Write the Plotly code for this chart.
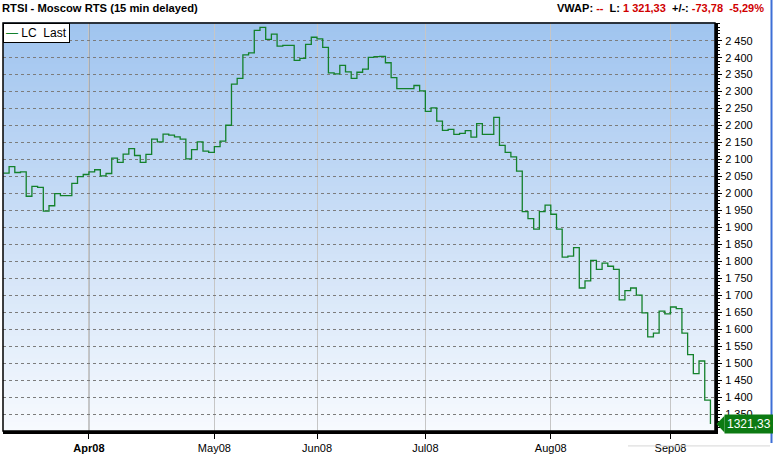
import plotly.graph_objects as go

# ---- data ----
values = [
    2060, 2079, 2062, 2064, 1992, 2021, 2018, 1948, 1964, 2000,
    1994, 1994, 2030, 2050, 2056, 2064, 2070, 2052, 2059, 2104,
    2092, 2116, 2132, 2112, 2092, 2115, 2160, 2152, 2175, 2172,
    2167, 2160, 2102, 2129, 2152, 2125, 2121, 2138, 2154, 2201,
    2322, 2339, 2408, 2414, 2480, 2489, 2454, 2469, 2434, 2436,
    2436, 2392, 2398, 2439, 2460, 2455, 2430, 2355, 2352, 2377,
    2358, 2339, 2357, 2366, 2401, 2403, 2404, 2385, 2341, 2309,
    2309, 2309, 2318, 2302, 2242, 2252, 2213, 2186, 2189, 2174,
    2177, 2185, 2166, 2206, 2174, 2174, 2224, 2142, 2121, 2108,
    2066, 1947, 1926, 1895, 1947, 1966, 1939, 1895, 1813, 1816,
    1841, 1722, 1743, 1803, 1777, 1795, 1786, 1777, 1687, 1714,
    1722, 1701, 1649, 1578, 1589, 1654, 1646, 1666, 1661, 1589,
    1526, 1470, 1507, 1392, 1321.33,
]
day_index = list(range(len(values)))
month_tick_index = [15, 37, 55, 74, 96, 117]
month_tick_labels = ["<b>Apr08</b>", "May08", "Jun08", "Jul08", "Aug08", "Sep08"]
y_tick_values = list(range(1350, 2451, 50))
series_name = "LC  Last"
title_text = "RTSI - Moscow RTS (15 min delayed)"
change_abs = -73.78

# ---- geometry / style ----
W, H = 773, 457
ML, MR, MT, MB = 3, 58, 23, 24
PW, PH = W - ML - MR, H - MT - MB
y_range = [1301, 2502]
x_range = [-0.07, 124.8]
LINE_GREEN = "#13812b"
LABEL_GREEN = "#0c7a12"
RED = "#d00000"
FONT = "Liberation Sans, Arial, sans-serif"


def px_x(px):
    return (px - ML) / PW


def px_y(py):
    return (H - MB - py) / PH


def val_y(v):
    return (v - y_range[0]) / (y_range[1] - y_range[0])


def fmt_num(v):
    s = f"{abs(v):,.2f}".replace(",", " ").replace(".", ",")
    return ("-" if v < 0 else "") + s


fig = go.Figure()
fig.add_trace(go.Scatter(
    x=day_index, y=values, mode="lines", name=series_name,
    line=dict(shape="hv", color=LINE_GREEN, width=1.3),
    showlegend=False, hoverinfo="skip",
))

shapes = []
# vertical gradient background of the plot area
top_rgb = (160, 196, 239)
bot_rgb = (247, 250, 254)
n_bands = 90
for k in range(n_bands):
    t = (k + 0.5) / n_bands
    c = tuple(round(bot_rgb[j] + (top_rgb[j] - bot_rgb[j]) * t) for j in range(3))
    shapes.append(dict(type="rect", xref="paper", yref="paper",
                       x0=0, x1=1, y0=k / n_bands, y1=(k + 1) / n_bands + 0.002,
                       fillcolor=f"rgb{c}", line=dict(width=0), layer="below"))
# darker quarter line at Apr08
shapes.append(dict(type="line", xref="x", yref="paper",
                   x0=month_tick_index[0], x1=month_tick_index[0], y0=0, y1=1,
                   line=dict(color="#858585", width=1), layer="between"))
# frame
shapes.append(dict(type="rect", xref="paper", yref="paper", x0=0, x1=1, y0=0, y1=1,
                   line=dict(color="black", width=1.5), layer="above"))
# last-value pointer triangle
last_v = values[-1]
ly = val_y(last_v)
half = 8.5 / PH
shapes.append(dict(type="path", xref="paper", yref="paper",
                   path=f"M {px_x(716.5)} {ly} L {px_x(724.5)} {ly + half} L {px_x(724.5)} {ly - half} Z",
                   fillcolor=LABEL_GREEN, line=dict(width=0), layer="above"))
# window edge decorations
shapes.append(dict(type="line", xref="paper", yref="paper", x0=px_x(771.5), x1=px_x(771.5),
                   y0=px_y(445), y1=px_y(0), line=dict(color="#3d6fd6", width=2), layer="above"))
shapes.append(dict(type="line", xref="paper", yref="paper", x0=px_x(628), x1=px_x(770),
                   y0=px_y(448), y1=px_y(448), line=dict(color="#d6d6d6", width=1), layer="above"))

pct = change_abs / (last_v - change_abs) * 100
header = (f"<b>VWAP: <span style='color:{RED}'>--</span>  L: "
          f"<span style='color:{RED}'>{fmt_num(last_v)}</span>  +/-: "
          f"<span style='color:{RED}'>{fmt_num(change_abs)}  {fmt_num(pct)}%</span></b>")

annotations = [
    dict(text=f"<b>{title_text}</b>", xref="paper", yref="paper", x=px_x(0), y=px_y(8),
         xanchor="left", yanchor="middle", showarrow=False,
         font=dict(family=FONT, size=11.2, color="black")),
    dict(text=header, xref="paper", yref="paper", x=px_x(766), y=px_y(8),
         xanchor="right", yanchor="middle", showarrow=False,
         font=dict(family=FONT, size=11, color="black")),
    dict(text=f"<span style='color:{LINE_GREEN}'>—</span> {series_name}", xref="paper", yref="paper",
         x=0, y=1, xanchor="left", yanchor="top", showarrow=False,
         bgcolor="white", bordercolor="black", borderwidth=1, borderpad=2,
         font=dict(family=FONT, size=12, color="black")),
    dict(text=fmt_num(last_v).replace(" ", ""), xref="paper", yref="paper",
         x=px_x(724), y=ly, xanchor="left", yanchor="middle", showarrow=False,
         bgcolor=LABEL_GREEN, borderpad=2,
         font=dict(family=FONT, size=12, color="white")),
]

fig.update_layout(
    width=W, height=H,
    margin=dict(l=ML, r=MR, t=MT, b=MB, pad=0),
    paper_bgcolor="white", plot_bgcolor="white",
    separators=", ",
    showlegend=False,
    shapes=shapes, annotations=annotations,
    font=dict(family=FONT, size=11, color="black"),
    xaxis=dict(range=x_range, tickmode="array", tickvals=month_tick_index, ticktext=month_tick_labels,
               showgrid=True, gridcolor="#c6c6c6", gridwidth=1,
               showline=True, linecolor="black", linewidth=3,
               ticks="outside", ticklen=5, tickwidth=1, tickcolor="black",
               zeroline=False, tickfont=dict(family=FONT, size=11, color="black")),
    yaxis=dict(side="right", range=y_range, tickmode="array", tickvals=y_tick_values,
               tickformat=",d", showgrid=True, gridcolor="#7c7c7c", gridwidth=1, griddash="3px,3px",
               showline=True, linecolor="black", linewidth=3,
               ticks="outside", ticklen=4, tickwidth=1, tickcolor="black",
               ticklabelstandoff=1,
               minor=dict(tickmode="linear", tick0=1300, dtick=10, ticks="outside",
                          ticklen=2, tickwidth=1, tickcolor="black", showgrid=False),
               zeroline=False, tickfont=dict(family=FONT, size=11, color="black")),
)

fig.write_html(
    "out.html",
    config={"displayModeBar": False, "staticPlot": True},
    post_script="document.body.style.margin='0';document.body.style.padding='0';document.body.style.overflow='hidden';",
)
